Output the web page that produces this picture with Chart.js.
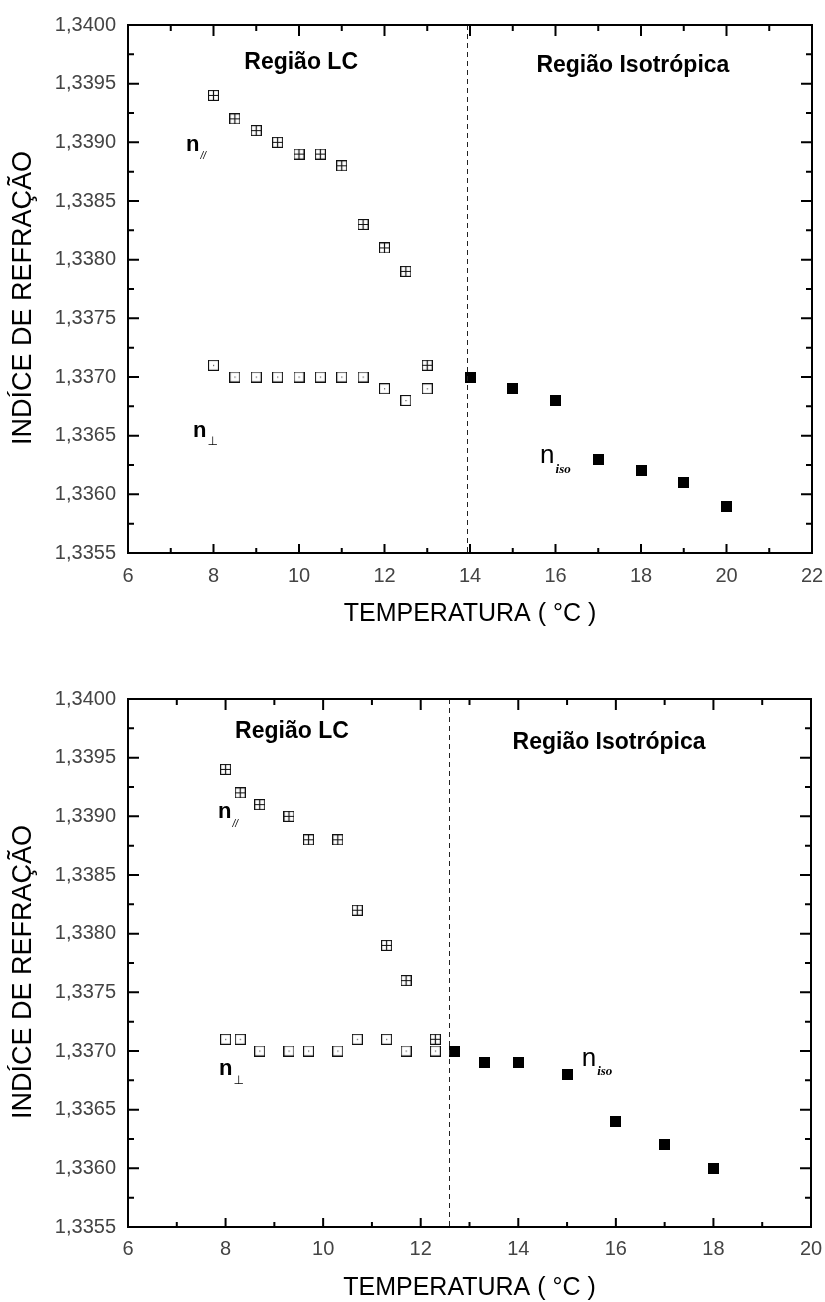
<!DOCTYPE html>
<html>
<head>
<meta charset="utf-8">
<script src="https://cdn.jsdelivr.net/npm/chart.js@4.4.1/dist/chart.umd.min.js"></script>
<style>
  html, body { margin: 0; padding: 0; background: #fff; }
  body { width: 825px; height: 1302px; position: relative; overflow: hidden; }
  canvas { position: absolute; left: 0; display: block; }
</style>
</head>
<body>
<canvas id="c1" width="825" height="650" style="top:0px"></canvas>
<canvas id="c2" width="825" height="652" style="top:650px"></canvas>
<script>
// ---------- DATA: top chart ----------
const topParTemp  = [8, 8.5, 9, 9.5, 10, 10.5, 11, 11.5, 12, 12.5, 13];
const topParIdx   = [1.3394, 1.3392, 1.3391, 1.3390, 1.3389, 1.3389, 1.3388, 1.3383, 1.3381, 1.3379, 1.3371];
const topPerpTemp = [8, 8.5, 9, 9.5, 10, 10.5, 11, 11.5, 12, 12.5, 13];
const topPerpIdx  = [1.3371, 1.3370, 1.3370, 1.3370, 1.3370, 1.3370, 1.3370, 1.3370, 1.3369, 1.3368, 1.3369];
const topIsoTemp  = [14, 15, 16, 17, 18, 19, 20];
const topIsoIdx   = [1.3370, 1.3369, 1.3368, 1.3363, 1.3362, 1.3361, 1.3359];
const topXTicks   = [6, 8, 10, 12, 14, 16, 18, 20, 22];

// ---------- DATA: bottom chart ----------
const botParTemp  = [8, 8.3, 8.7, 9.3, 9.7, 10.3, 10.7, 11.3, 11.7, 12.3];
const botParIdx   = [1.3394, 1.3392, 1.3391, 1.3390, 1.3388, 1.3388, 1.3382, 1.3379, 1.3376, 1.3371];
const botPerpTemp = [8, 8.3, 8.7, 9.3, 9.7, 10.3, 10.7, 11.3, 11.7, 12.3];
const botPerpIdx  = [1.3371, 1.3371, 1.3370, 1.3370, 1.3370, 1.3370, 1.3371, 1.3371, 1.3370, 1.3370];
const botIsoTemp  = [12.7, 13.3, 14, 15, 16, 17, 18];
const botIsoIdx   = [1.3370, 1.3369, 1.3369, 1.3368, 1.3364, 1.3362, 1.3360];
const botXTicks   = [6, 8, 10, 12, 14, 16, 18, 20];

// ---------- shared ----------
const yTicks = [1.3355, 1.3360, 1.3365, 1.3370, 1.3375, 1.3380, 1.3385, 1.3390, 1.3395, 1.3400];
const xTitle = 'TEMPERATURA ( °C )';
const yTitle = 'INDÍCE DE REFRAÇÃO';
const regionLC = 'Região LC';
const regionIso = 'Região Isotrópica';

const FONT = '"Liberation Sans", Arial, Helvetica, sans-serif';

// ---------- marker images ----------
function makeMarker(kind) {
  const c = document.createElement('canvas');
  c.width = 11; c.height = 11;
  const g = c.getContext('2d');
  if (kind === 'filled') {
    g.fillStyle = '#000';
    g.fillRect(0, 0, 11, 11);
  } else {
    g.fillStyle = '#fff';
    g.fillRect(0.5, 0.5, 10, 10);
    g.strokeStyle = '#111';
    g.lineWidth = 1.2;
    g.strokeRect(0.5, 0.5, 10, 10);
    if (kind === 'cross') {
      g.beginPath();
      g.moveTo(5.5, 0.5); g.lineTo(5.5, 10.5);
      g.moveTo(0.5, 5.5); g.lineTo(10.5, 5.5);
      g.stroke();
    } else {
      g.fillStyle = '#555';
      g.fillRect(5, 5, 1.2, 1.2);
    }
  }
  return c;
}
const mkCross = makeMarker('cross');
const mkOpen = makeMarker('open');
const mkFilled = makeMarker('filled');

function pts(xs, ys) { return xs.map((v, i) => ({ x: v, y: ys[i] })); }

// ---------- frame / ticks / annotations plugin ----------
const framePlugin = {
  id: 'frame',
  afterDraw(chart, args, opts) {
    const { ctx, chartArea: { left, right, top, bottom }, scales: { x, y } } = chart;
    ctx.save();
    // dashed separation line
    const dx = x.getPixelForValue(opts.dashX);
    ctx.strokeStyle = '#222';
    ctx.lineWidth = 1;
    ctx.setLineDash([5, 4]);
    ctx.beginPath();
    ctx.moveTo(Math.round(dx) + 0.5, top);
    ctx.lineTo(Math.round(dx) + 0.5, bottom);
    ctx.stroke();
    ctx.setLineDash([]);

    // ticks (inward) on all four sides
    ctx.strokeStyle = '#000';
    ctx.lineWidth = 2;
    const xv = x.ticks.map(t => t.value);
    const yv = y.ticks.map(t => t.value);
    const majL = 11, minL = 6;
    ctx.beginPath();
    xv.forEach((v, i) => {
      const p = x.getPixelForValue(v);
      ctx.moveTo(p, bottom); ctx.lineTo(p, bottom - (majL - 2));
      ctx.moveTo(p, top); ctx.lineTo(p, top + majL);
      if (i < xv.length - 1) {
        const m = x.getPixelForValue((v + xv[i + 1]) / 2);
        ctx.moveTo(m, bottom); ctx.lineTo(m, bottom - (minL - 1));
        ctx.moveTo(m, top); ctx.lineTo(m, top + minL);
      }
    });
    yv.forEach((v, i) => {
      const p = y.getPixelForValue(v);
      ctx.moveTo(left, p); ctx.lineTo(left + majL, p);
      ctx.moveTo(right, p); ctx.lineTo(right - majL, p);
      if (i < yv.length - 1) {
        const m = y.getPixelForValue((v + yv[i + 1]) / 2);
        ctx.moveTo(left, m); ctx.lineTo(left + minL, m);
        ctx.moveTo(right, m); ctx.lineTo(right - minL, m);
      }
    });
    ctx.stroke();

    // frame
    ctx.lineWidth = 2;
    ctx.strokeRect(left, top, right - left, bottom - top);

    // y axis title (rotated), slightly below plot centre as in the original
    ctx.save();
    ctx.fillStyle = '#000';
    ctx.font = '27px ' + FONT;
    ctx.textAlign = 'center';
    ctx.textBaseline = 'middle';
    ctx.translate(23.5, (top + bottom) / 2 + 9);
    ctx.rotate(-Math.PI / 2);
    ctx.fillText(yTitle, 0, 0);
    ctx.restore();

    // region labels
    ctx.fillStyle = '#000';
    ctx.textBaseline = 'middle';
    ctx.textAlign = 'center';
    (opts.regions || []).forEach(r => {
      ctx.font = 'bold 23px ' + FONT;
      ctx.fillText(r.text, x.getPixelForValue(r.x), y.getPixelForValue(r.y));
    });

    // n labels
    ctx.textAlign = 'left';
    ctx.textBaseline = 'alphabetic';
    (opts.nlabels || []).forEach(n => {
      const px = x.getPixelForValue(n.x), py = y.getPixelForValue(n.y);
      ctx.font = n.mainFont;
      ctx.fillText('n', px, py);
      const w = ctx.measureText('n').width;
      ctx.font = n.subFont;
      ctx.fillText(n.sub, px + w + (n.subDx || 1), py + (n.subDy || 8));
    });
    ctx.restore();
  }
};

function makeChart(id, cfg) {
  return new Chart(document.getElementById(id), {
    type: 'scatter',
    data: {
      datasets: [
        { label: 'n//', data: pts(cfg.parT, cfg.parI), pointStyle: mkCross, pointRadius: 6, pointHoverRadius: 6 },
        { label: 'n⊥', data: pts(cfg.perpT, cfg.perpI), pointStyle: mkOpen, pointRadius: 6, pointHoverRadius: 6 },
        { label: 'niso', data: pts(cfg.isoT, cfg.isoI), pointStyle: mkFilled, pointRadius: 6, pointHoverRadius: 6 }
      ]
    },
    options: {
      responsive: false,
      animation: false,
      devicePixelRatio: 1,
      layout: { padding: { top: cfg.padTop, right: cfg.padRight, left: 0, bottom: 0 } },
      plugins: {
        legend: { display: false },
        tooltip: { enabled: false },
        frame: { dashX: cfg.dashX, regions: cfg.regions, nlabels: cfg.nlabels }
      },
      scales: {
        x: {
          type: 'linear',
          min: cfg.xTicks[0],
          max: cfg.xTicks[cfg.xTicks.length - 1],
          afterBuildTicks: s => { s.ticks = cfg.xTicks.map(v => ({ value: v })); },
          afterFit: s => { s.height = cfg.xHeight; s.paddingLeft = 0; s.paddingRight = 0; },
          grid: { display: false, drawTicks: false },
          border: { display: false },
          ticks: {
            padding: cfg.xTickPad,
            color: '#444',
            font: { family: FONT, size: 20, lineHeight: 1.2 },
            maxRotation: 0,
            callback: v => String(v)
          },
          title: {
            display: true,
            text: xTitle,
            color: '#000',
            font: { family: FONT, size: 25, lineHeight: 1 },
            padding: { top: 0, bottom: cfg.xTitlePad }
          }
        },
        y: {
          type: 'linear',
          min: yTicks[0],
          max: yTicks[yTicks.length - 1],
          afterBuildTicks: s => { s.ticks = yTicks.map(v => ({ value: v })); },
          afterFit: s => { s.width = 128; s.paddingTop = 0; s.paddingBottom = 0; },
          grid: { display: false, drawTicks: false },
          border: { display: false },
          ticks: {
            padding: 12,
            color: '#444',
            font: { family: FONT, size: 20, lineHeight: 1.2 },
            callback: v => Number(v).toFixed(4).replace('.', ',')
          },
          title: { display: false }
        }
      }
    },
    plugins: [framePlugin]
  });
}

makeChart('c1', {
  parT: topParTemp, parI: topParIdx,
  perpT: topPerpTemp, perpI: topPerpIdx,
  isoT: topIsoTemp, isoI: topIsoIdx,
  xTicks: topXTicks,
  padTop: 25, padRight: 13, xHeight: 97, xTickPad: 11, xTitlePad: 23,
  dashX: 13.92,
  regions: [
    { text: regionLC, x: 10.05, y: 1.33968 },
    { text: regionIso, x: 17.81, y: 1.33965 }
  ],
  nlabels: [
    { x: 7.357, y: 1.338926, mainFont: 'bold 22px ' + FONT, sub: '//', subFont: 'italic 10px ' + FONT, subDy: 8 },
    { x: 7.52, y: 1.336489, mainFont: 'bold 22px ' + FONT, sub: '⊥', subFont: '12px "DejaVu Sans"', subDy: 8 },
    { x: 15.64, y: 1.336267, mainFont: '26px ' + FONT, sub: 'iso', subFont: 'bold italic 13px "Liberation Serif"', subDy: 10 }
  ]
});

makeChart('c2', {
  parT: botParTemp, parI: botParIdx,
  perpT: botPerpTemp, perpI: botPerpIdx,
  isoT: botIsoTemp, isoI: botIsoIdx,
  xTicks: botXTicks,
  padTop: 49, padRight: 14, xHeight: 75, xTickPad: 10, xTitlePad: 1,
  dashX: 12.58,
  regions: [
    { text: regionLC, x: 9.36, y: 1.33972 },
    { text: regionIso, x: 15.86, y: 1.33963 }
  ],
  nlabels: [
    { x: 7.844, y: 1.338986, mainFont: 'bold 22px ' + FONT, sub: '//', subFont: 'italic 10px ' + FONT, subDy: 9 },
    { x: 7.865, y: 1.336795, mainFont: 'bold 22px ' + FONT, sub: '⊥', subFont: '12px "DejaVu Sans"', subDy: 9 },
    { x: 15.30, y: 1.336872, mainFont: '26px ' + FONT, sub: 'iso', subFont: 'bold italic 13px "Liberation Serif"', subDy: 9 }
  ]
});
</script>
</body>
</html>
